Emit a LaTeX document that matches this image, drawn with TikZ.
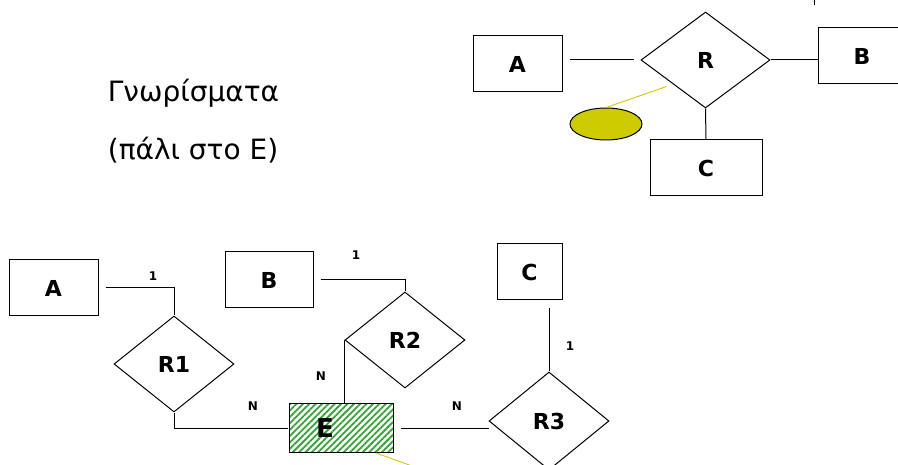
\documentclass[tikz,border=0pt]{standalone}
\usepackage{fontspec}
\setmainfont{DejaVu Sans}
\usetikzlibrary{shapes.geometric, patterns.meta}
\definecolor{attrfill}{RGB}{204,204,0}
\definecolor{hatch}{RGB}{50,165,50}

\begin{document}
\begin{tikzpicture}[x=1pt, y=-1pt, line width=1pt,
    entity/.style={draw, rectangle, inner sep=0pt, minimum height=56pt, font=\fontsize{22}{26}\selectfont\bfseries},
    rel/.style={draw, diamond, inner sep=0pt, minimum width=120pt, minimum height=96pt, font=\fontsize{22}{26}\selectfont\bfseries},
    card/.style={font=\fontsize{12}{14}\selectfont\bfseries},
    attrline/.style={draw=attrfill, line width=0.9pt},
    link/.style={shorten <=7pt}]
    \useasboundingbox (0,0) rectangle (898,465);
    \node[anchor=west, font=\fontsize{28}{32}\selectfont] (title1) at (104,93) {Γνωρίσματα};
    \node[anchor=west, font=\fontsize{28}{32}\selectfont] (title2) at (104,150) {(πάλι στο Ε)};
    \node[entity, minimum width=89pt] (tA) at (517.5,64) {A};
    \node[entity, minimum width=88pt] (tB) at (862,56) {B};
    \node[entity, minimum width=112pt] (tC) at (706,168) {C};
    \node[rel, minimum width=129pt] (tR) at (705.5,60) {R};
    \node[draw, ellipse, fill=attrfill, minimum width=72pt, minimum height=32pt] (tAtt) at (606,124) {};
    \draw[link, shorten >=7pt] (tA.east |- tR.west) -- (tR.west);
    \draw (tR.east) -- (tB.west |- tR.east);
    \draw (tR.south) -- (tC.north);
    \draw[attrline, shorten >=7pt] (tAtt.north) -- (tR.south west);
    \draw (814,0) -- (814,5);
    \node[entity, minimum width=89pt] (bA) at (53.5,288) {A};
    \node[entity, minimum width=88pt] (bB) at (269,280) {B};
    \node[entity, minimum width=65pt] (bC) at (529.5,272) {C};
    \node[entity, minimum width=104pt, minimum height=48pt, pattern={Lines[angle=45, distance=4.5pt, line width=1.8pt]}, pattern color=hatch, font=\fontsize{26}{30}\selectfont\bfseries] (E) at (341,428) {\hspace*{-32pt}E};
    \node[rel] (R1) at (174,364) {R1};
    \node[rel] (R2) at (405,340) {R2};
    \node[rel, minimum height=98pt] (R3) at (549,421) {R3};
    \draw[link] (bA.east) -| (R1.north);
    \draw (R1.south) |- (E.west);
    \draw[link] (bB.east) -| (R2.north);
    \draw (R2.west) -- (R2.west |- E.north);
    \draw[link] (E.east) -- (E.east -| R3.west);
    \draw[shorten <=8pt] (R3.north |- bC.south) -- (R3.north);
    \coordinate (Eatt) at (412,466);
    \draw[attrline] ([xshift=-18pt]E.south east) -- (Eatt);
    \node[card] (c1) at (153,276) {1};
    \node[card] (c2) at (356,255) {1};
    \node[card] (c3) at (570,346) {1};
    \node[card] (n1) at (253,406) {N};
    \node[card] (n2) at (321,376) {N};
    \node[card] (n3) at (457,406) {N};
\end{tikzpicture}
\end{document}
